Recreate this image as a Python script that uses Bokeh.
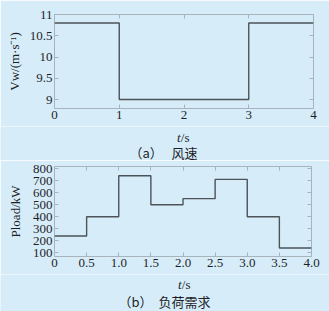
from bokeh.embed import file_html
from bokeh.layouts import column, row
from bokeh.models import FixedTicker, Label, LinearAxis, Range1d
from bokeh.plotting import figure
from bokeh.resources import INLINE

# (a) wind speed, piecewise constant between breakpoints
wind_t = [0, 1, 3, 4]
wind_v = [10.8, 9.0, 10.8]

# (b) load demand, piecewise constant between breakpoints
load_t = [0, 0.5, 1.0, 1.5, 2.0, 2.5, 3.0, 3.5, 4.0]
load_p = [240, 400, 740, 500, 550, 710, 400, 140]

wind_xticks = [0, 1, 2, 3, 4]
wind_xlabels = ["0", "1", "2", "3", "4"]
wind_yticks = [9, 9.5, 10, 10.5, 11]
wind_ylabels = ["9", "9.5", "10", "10.5", "11"]

load_xticks = [0, 0.5, 1.0, 1.5, 2.0, 2.5, 3.0, 3.5, 4.0]
load_xlabels = ["0", "0.5", "1.0", "1.5", "2.0", "2.5", "3.0", "3.5", "4.0"]
load_yticks = [100, 200, 300, 400, 500, 600, 700, 800]
load_ylabels = ["100", "200", "300", "400", "500", "600", "700", "800"]

BG = "#d6edf9"
FRAME = "#a8b3bb"
LINE = "#4b5358"
TEXT = "#1e1e28"
SERIF = "Liberation Serif"
CJK = "Noto Sans CJK SC"
W = 329


def chart(height, right, top, bottom, xr, yr, xticks, xlabels, yticks, ylabels,
          ylabel, ylabel_standoff):
    p = figure(
        width=W, height=height, output_backend="svg", toolbar_location=None,
        x_range=Range1d(*xr), y_range=Range1d(*yr),
        min_border_left=54, min_border_right=right,
        min_border_top=top, min_border_bottom=bottom,
        background_fill_color=BG, border_fill_color=BG,
        outline_line_color=FRAME, outline_line_width=1,
        x_axis_type=None, y_axis_type=None,
    )
    p.grid.visible = False
    for side, ticks, labels in (("below", xticks, xlabels), ("left", yticks, ylabels),
                                ("above", xticks, None), ("right", yticks, None)):
        ax = LinearAxis(ticker=FixedTicker(ticks=ticks))
        ax.axis_line_color = None
        ax.major_tick_in = 4
        ax.major_tick_out = 0
        ax.major_tick_line_color = FRAME
        ax.minor_tick_line_color = None
        if labels is None:
            ax.major_label_overrides = {t: "" for t in ticks}
            ax.major_label_text_font_size = "1px"
            ax.major_label_standoff = 0
        else:
            ax.major_label_overrides = dict(zip(ticks, labels))
            ax.major_label_text_font = SERIF
            ax.major_label_text_font_size = "13px"
            ax.major_label_text_color = TEXT
            ax.major_label_standoff = 2
        if side == "left":
            ax.axis_label = ylabel
            ax.axis_label_text_font = SERIF
            ax.axis_label_text_font_size = "13px"
            ax.axis_label_text_font_style = "normal"
            ax.axis_label_text_color = TEXT
            ax.axis_label_standoff = ylabel_standoff
        p.add_layout(ax, side)
    return p


class TextStrip:
    """A bare canvas for titles; positions are given in page pixels (origin top-left)."""

    def __init__(self, oy, height):
        self.oy, self.h = oy, height
        self.p = figure(
            width=W, height=height, output_backend="svg", toolbar_location=None,
            x_range=Range1d(0, W), y_range=Range1d(0, height),
            min_border=0, background_fill_color=BG, border_fill_color=BG,
            outline_line_color=None, x_axis_type=None, y_axis_type=None,
        )
        self.p.grid.visible = False

    def text(self, px, py, s, size, font=SERIF, style="normal", baseline="alphabetic"):
        self.p.add_layout(Label(
            x=px, y=self.h - (py - self.oy),
            text=s, text_font=font, text_font_size=f"{size}px", text_font_style=style,
            text_color=TEXT, text_align="left", text_baseline=baseline,
        ))


# ---- (a) wind speed ----
A_H = 126
pa = chart(A_H, 16, 14, A_H - 108, (0, 4), (8.79, 11.0),
           wind_xticks, wind_xlabels, wind_yticks, wind_ylabels,
           "Vw/(m·s⁻¹)", 5)
pa.step(x=wind_t, y=wind_v + [wind_v[-1]], mode="after", line_color=LINE, line_width=1.4)

ca = TextStrip(A_H, 160 - A_H)
ca.text(176.5, 137.0, "t", 13, style="italic")
ca.text(180.3, 137.0, "/s", 13)
ca.text(129, 152, "（a）", 13, font=CJK, baseline="middle")
ca.text(171, 152, "风速", 13, font=CJK, baseline="middle")

# ---- (b) load demand ----
B_TOP = 160
B_H = 114
pb = chart(B_H, 18, 6, B_H - 96, (0, 4), (70, 817),
           load_xticks, load_xlabels, load_yticks, load_ylabels,
           "Pload/kW", 7)
pb.step(x=load_t, y=load_p + [load_p[-1]], mode="after", line_color=LINE, line_width=1.4)

cb = TextStrip(B_TOP + B_H, 311 - B_TOP - B_H)
cb.text(177.5, 284.0, "t", 13, style="italic")
cb.text(181.3, 284.0, "/s", 13)
cb.text(118, 301, "（b）", 13, font=CJK, baseline="middle")
cb.text(158, 301, "负荷需求", 13, font=CJK, baseline="middle")

# each plot sits in its own row so the column does not line up their frames
layout = column(
    row(pa, spacing=0),
    row(ca.p, spacing=0),
    row(pb, spacing=0),
    row(cb.p, spacing=0),
    spacing=0,
)
open("out.html", "w").write(file_html(layout, INLINE))
